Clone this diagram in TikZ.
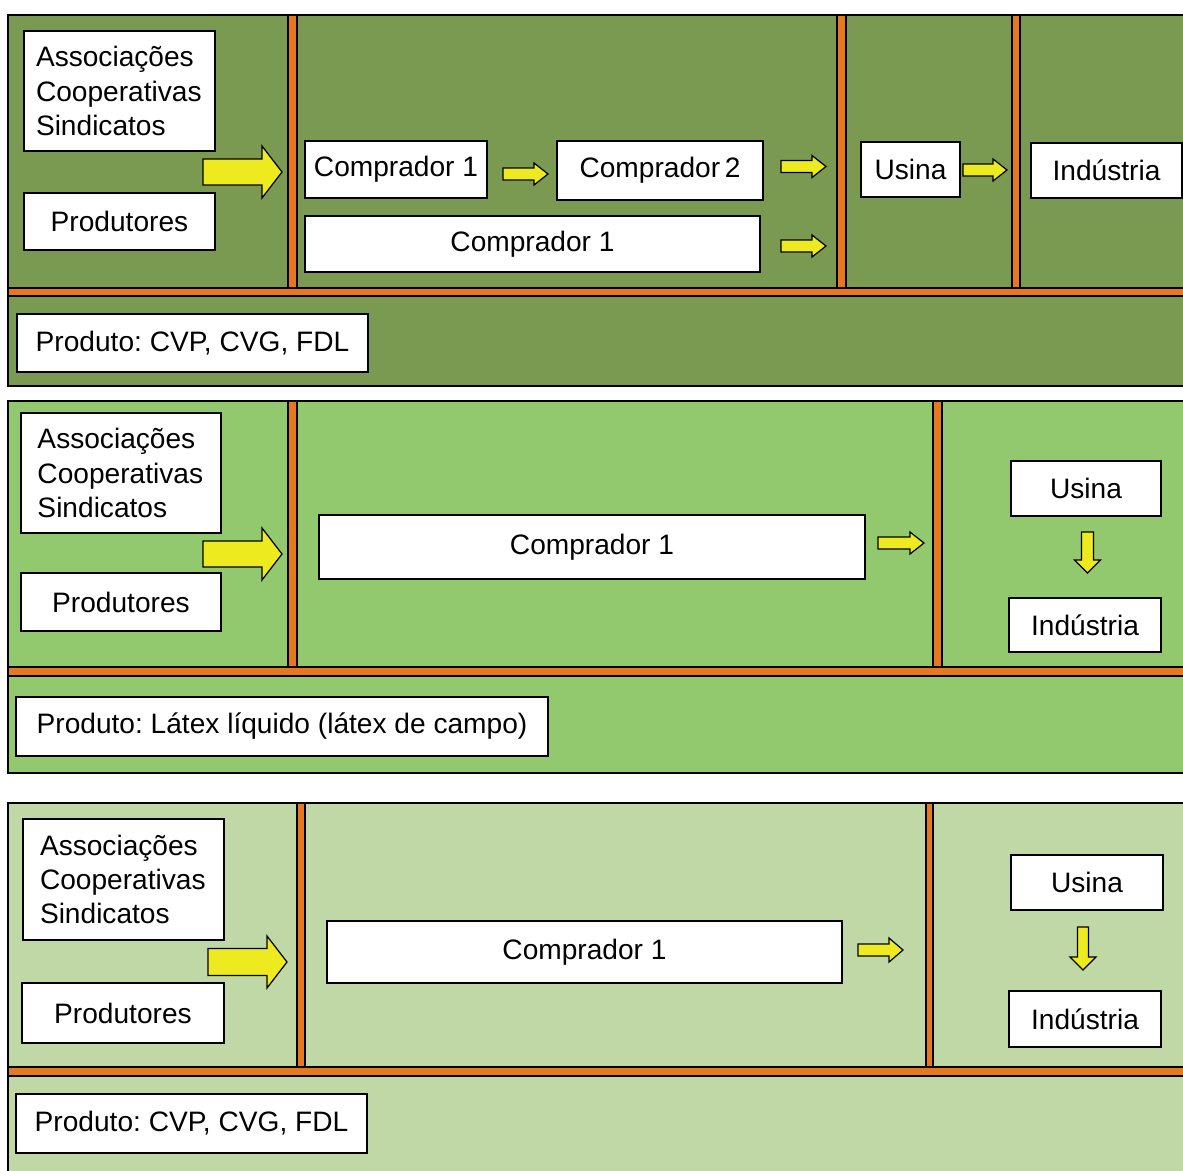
\documentclass[tikz,border=0pt]{standalone}
\usepackage{fontspec}
\setmainfont{Liberation Sans}
\usepackage{xcolor}
\frenchspacing

\definecolor{verdeEsc}{HTML}{7A9A52}
\definecolor{verdeMed}{HTML}{92C86E}
\definecolor{verdeCla}{HTML}{C0D8A6}
\definecolor{laranja}{HTML}{E87820}
\definecolor{amarelo}{HTML}{EEEA20}

% seta em bloco: ponto de saida, rotacao, comprimento, cabeca, meia haste, meia cabeca
\newcommand{\seta}[6]{%
  \draw[setabloco, shift={(#1)}, rotate=#2] (0,-#5) -- (#3-#4,-#5) -- (#3-#4,-#6) -- (#3,0)
    -- (#3-#4,#6) -- (#3-#4,#5) -- (0,#5) -- cycle;}

\begin{document}
\begin{tikzpicture}[x=0.02cm, y=-0.02cm,
box/.style={draw=black, line width=0.8pt, fill=white, inner sep=0pt, align=center,
  font=\fontsize{16}{19.6}\selectfont},
sz/.style 2 args={minimum width=#1*0.02cm, minimum height=#2*0.02cm},
lista/.style={box, align=left, text width=167*0.02cm},
painel/.style={draw=black, line width=0.8pt},
barra/.style={draw=black, line width=0.6pt, fill=laranja},
setabloco/.style={draw=black, line width=0.7pt, fill=amarelo, line join=miter}]
\clip (0,0) rectangle (1183,1170);
\fill[white] (0,0) rectangle (1183,1170);

% --- painel 1 ---
\draw[painel, fill=verdeEsc] (8,15) rectangle (1200,386);
\draw[barra] (288,15) rectangle (297,288);
\draw[barra] (837,15) rectangle (846,288);
\draw[barra] (1012,15) rectangle (1020,288);
\draw[barra] (8,288) rectangle (1200,296);
\node[lista, sz={191}{120}] (assoc1) at (119.5,91) {Associações\\Cooperativas\\Sindicatos};
\node[box, sz={191}{57}] (prod1) at (119.5,221.5) {Produtores};
\node[box, sz={182}{57}] (compA1) at (396,169.5) {Comprador 1};
\node[box, sz={206}{59}] (compB1) at (660,170.5) {Comprador\,2};
\node[box, sz={455}{56}] (compC1) at (532.5,244) {Comprador 1};
\node[box, sz={99}{55}] (usina1) at (910.5,169.5) {Usina};
\node[box, sz={151}{55}] (ind1) at (1106.5,170.5) {Indústria};
\node[box, sz={351}{58}] (prodt1) at (192.5,343) {Produto: CVP, CVG, FDL};
\seta{203,172}{0}{79}{20}{13}{26}
\seta{503,174}{0}{45}{14}{6}{11}
\seta{781,166.5}{0}{45}{14}{6}{11}
\seta{781,246}{0}{45}{14}{6}{11}
\seta{963,170}{0}{44}{14}{6}{11}

% --- painel 2 ---
\draw[painel, fill=verdeMed] (8,401) rectangle (1200,773);
\draw[barra] (288,401) rectangle (297,667);
\draw[barra] (933,401) rectangle (942,667);
\draw[barra] (8,667) rectangle (1200,676);
\node[lista, sz={200}{120}] (assoc2) at (121,473) {Associações\\Cooperativas\\Sindicatos};
\node[box, sz={200}{58}] (prod2) at (121,602) {Produtores};
\node[box, sz={546}{64}] (comp2) at (592,547) {Comprador 1};
\node[box, sz={150}{55}] (usina2) at (1086,488.5) {Usina};
\node[box, sz={152}{54}] (ind2) at (1085,625) {Indústria};
\node[box, sz={532}{59}] (prodt2) at (282,726.5) {Produto: Látex líquido (látex de campo)};
\seta{203,554}{0}{79}{20}{13}{26}
\seta{878,543}{0}{46}{14}{6}{11}
\seta{1087.5,532}{-90}{41}{13}{6}{13}

% --- painel 3 ---
\draw[painel, fill=verdeCla] (8,803) rectangle (1200,1200);
\draw[barra] (297,803) rectangle (305,1067);
\draw[barra] (926,803) rectangle (933,1067);
\draw[barra] (8,1067) rectangle (1200,1076);
\node[lista, sz={201}{121}] (assoc3) at (123.5,879.5) {Associações\\Cooperativas\\Sindicatos};
\node[box, sz={202}{60}] (prod3) at (123,1013) {Produtores};
\node[box, sz={515}{62}] (comp3) at (584.5,952) {Comprador 1};
\node[box, sz={152}{55}] (usina3) at (1087,882.5) {Usina};
\node[box, sz={152}{56}] (ind3) at (1085,1019) {Indústria};
\node[box, sz={351}{59}] (prodt3) at (191.5,1123.5) {Produto: CVP, CVG, FDL};
\seta{208,962}{0}{79}{20}{13.5}{26}
\seta{858,950}{0}{45}{14}{6}{12}
\seta{1083,927}{-90}{43}{13}{5.5}{13}
\end{tikzpicture}
\end{document}
